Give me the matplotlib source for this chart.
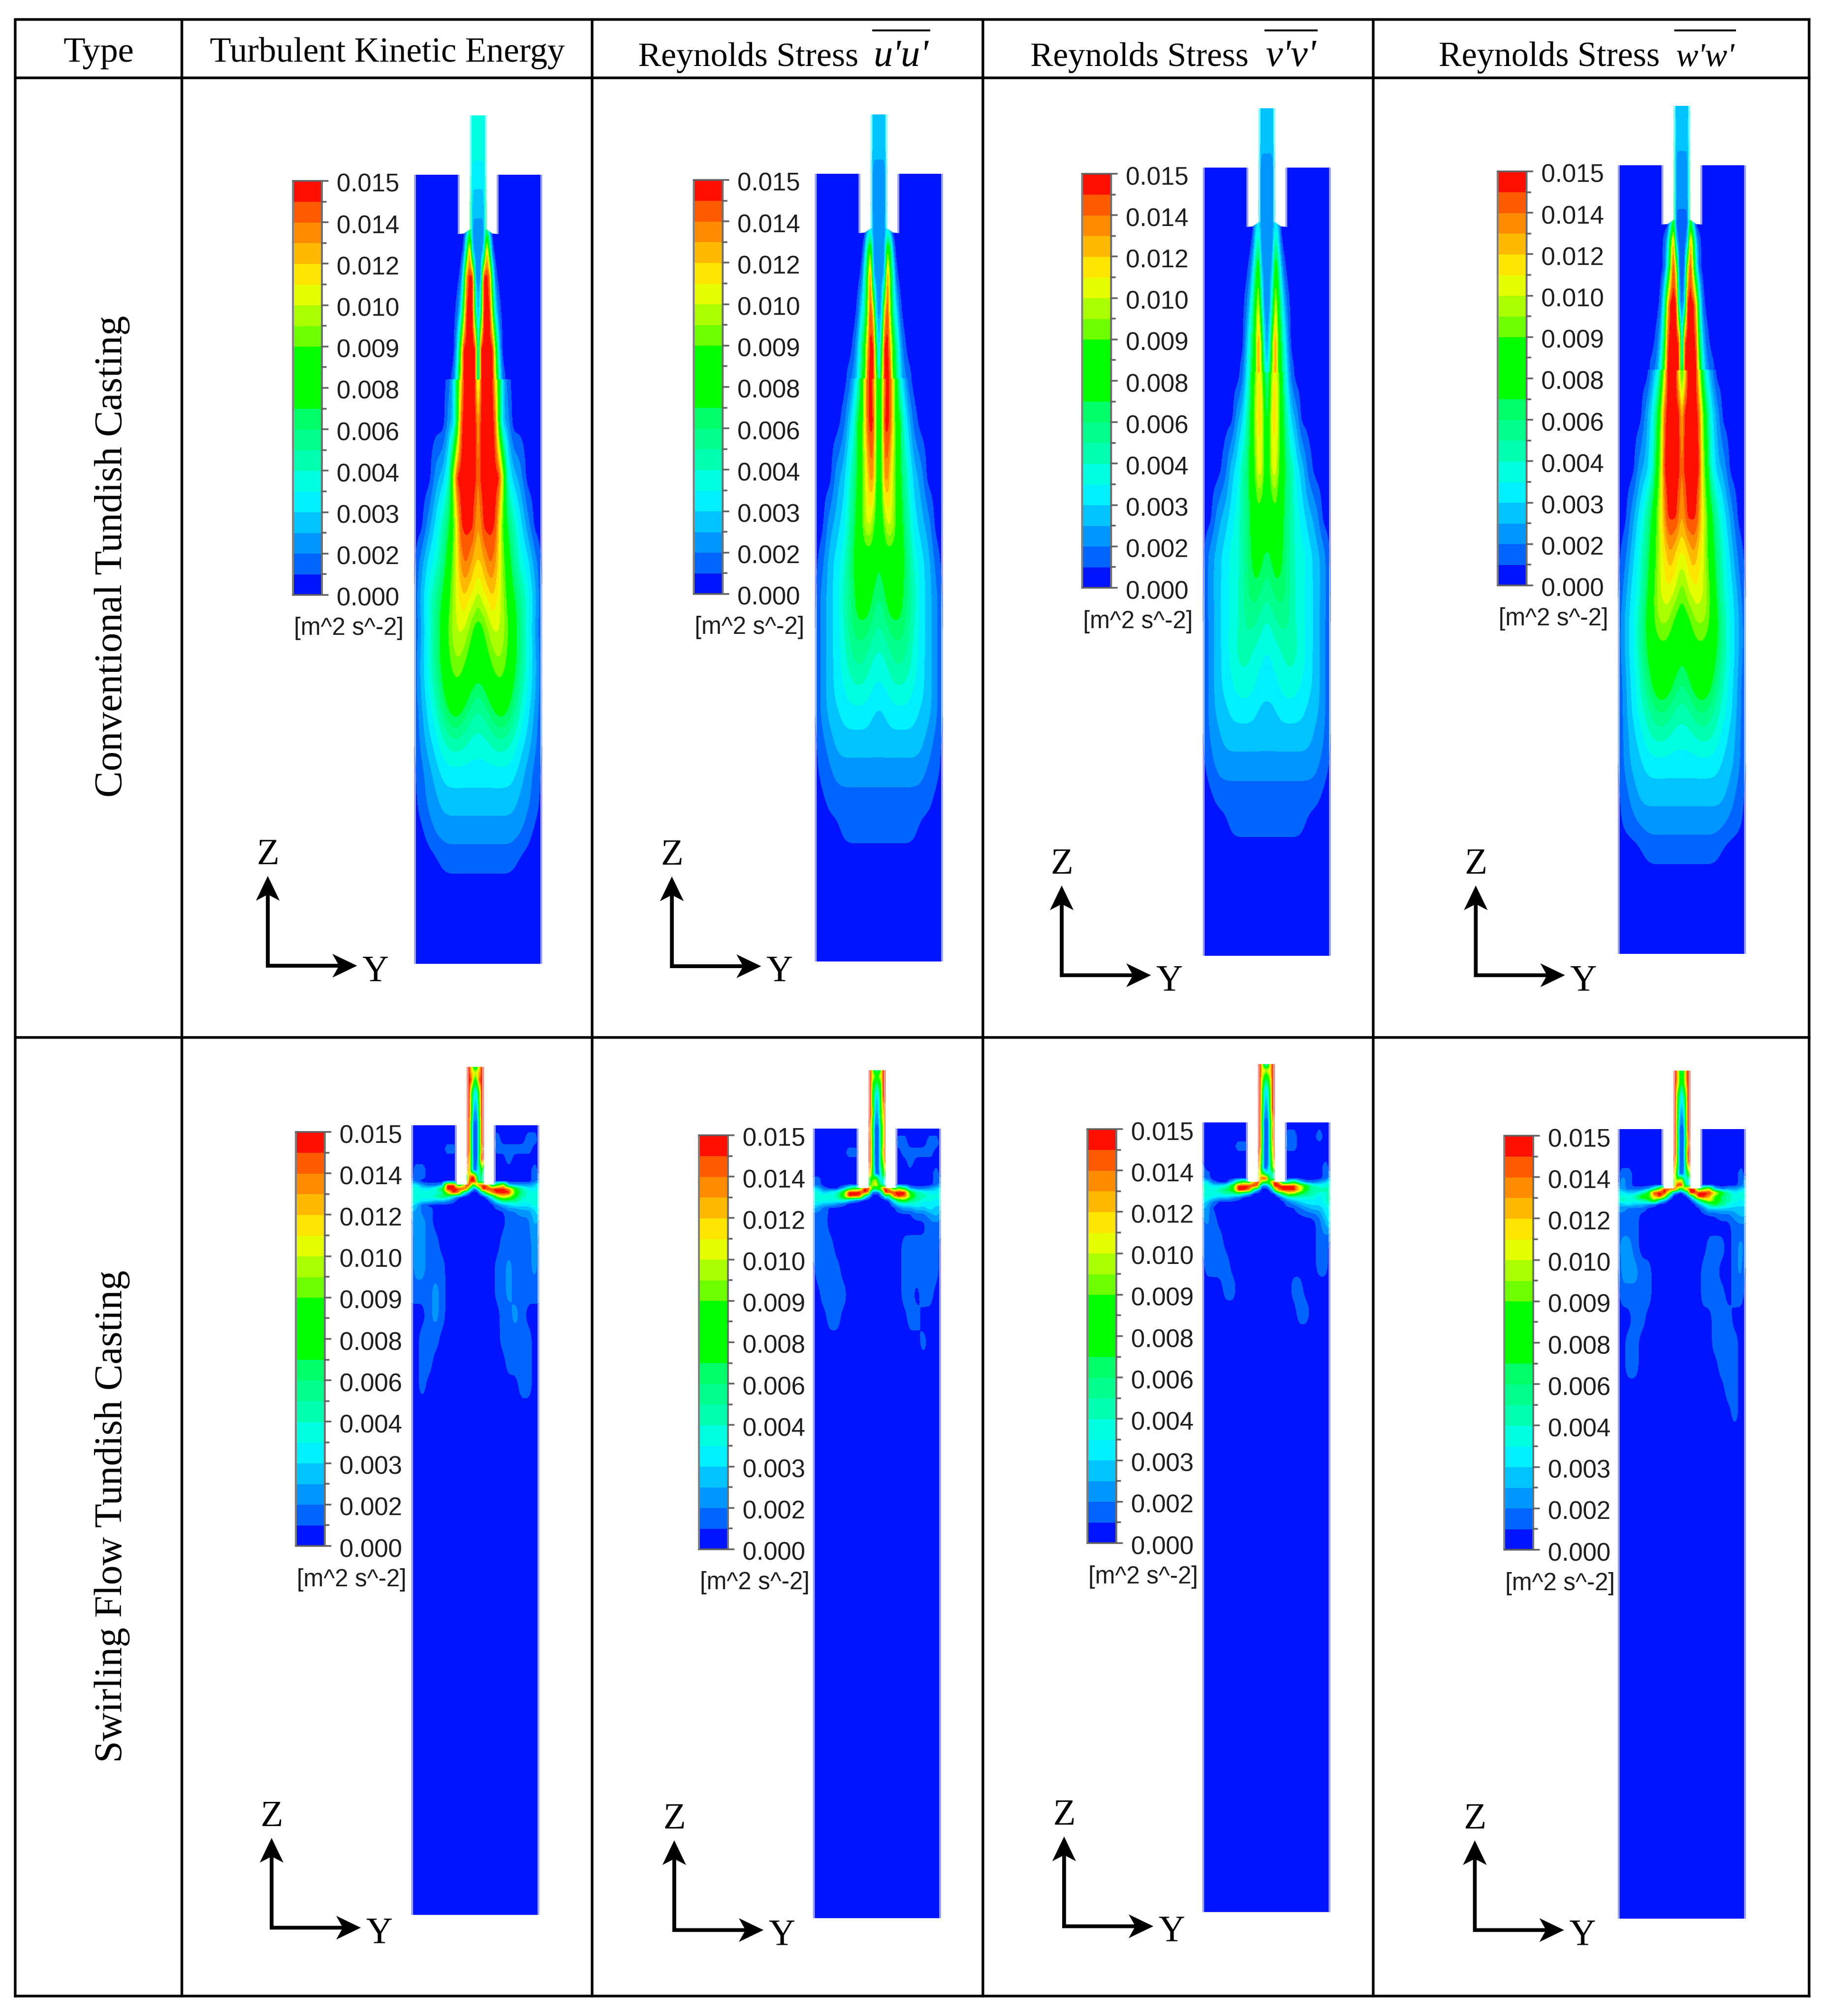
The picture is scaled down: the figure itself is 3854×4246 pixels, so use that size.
import matplotlib
matplotlib.use("Agg")
import matplotlib.pyplot as plt
import numpy as np
from matplotlib.path import Path
from matplotlib.patches import PathPatch, Rectangle, Polygon

W, H = 3854, 4246
PX = 72 / 100.0

# ---------------- data ----------------
HEADERS = ["Type", "Turbulent Kinetic Energy", "Reynolds Stress", "Reynolds Stress", "Reynolds Stress"]
SYMBOLS = ["u'u'", "v'v'", "w'w'"]
ROW_LABELS = ["Conventional Tundish Casting", "Swirling Flow Tundish Casting"]
CB_LABELS = ["0.015", "0.014", "0.012", "0.010", "0.009", "0.008", "0.006", "0.004", "0.003", "0.002", "0.000"]
UNITS = "[m^2 s^-2]"
BAND_COLORS = [(0, 20, 255), (0, 100, 255), (0, 150, 255), (0, 195, 255), (0, 240, 255),
               (0, 255, 225), (0, 255, 175), (0, 255, 140), (0, 255, 105), (0, 255, 0),
               (0, 255, 0), (0, 255, 0), (110, 255, 0), (170, 255, 0), (230, 255, 0),
               (255, 230, 0), (255, 185, 0), (255, 140, 0), (255, 90, 0), (255, 15, 0)]

# Field cells: one character per grid node, band index 0-19 written in base 20
# (0 = 0.000 band ... j = 0.015 band). Conventional fields are listed for half the tank.
CONV_Z = [-125, -60, 0, 60, 124, 162, 215, 292, 368, 428, 438, 522, 636, 740, 820, 900, 960,
          1020, 1100, 1140, 1200, 1260, 1320, 1380, 1440, 1500, 1664]
CONV_Y = [0, 6, 12, 18, 24, 30, 36, 44, 52, 62, 74, 88, 104, 120, 135]

conv_tke = ["555500000000000", "555500000000000", "444600000000000", "333900000000000", "222930000000000",
            "223h81000000000", "22jjh6100000000", "27jjjc410000000", "2jjjjjc30000000", "2jjjjje51000000",
            "bjjjjjf93100000", "gjjjjji93200000", "hjjjjjjjd532000", "ghjjjjjfb864200", "ffghiihfca75420",
            "cdeefgfedb97530", "aabcdeeedca7520", "aaabbcdddba7530", "77889aabba86430", "666778899875420",
            "555556666654320", "444444444443210", "333333333332210", "222222222222100", "111111111110000",
            "000000000000000", "000000000000000"]
conv_uu = ["333500000000000", "333500000000000", "222400000000000", "222400000000000", "222530000000000",
           "222c82000000000", "223ia5100000000", "23fjc6410000000", "29jjga731000000", "3cjjia842100000",
           "8bijiea53100000", "9bjjiea95310000", "9bhhfdb97532000", "aaceedba8643200", "89aaaaaa9754310",
           "7789aaaa8764320", "667788888754320", "555667777654320", "444455555544320", "333444444443320",
           "333333333333210", "222222222222110", "111111111111100", "111111111110000", "000000000000000",
           "000000000000000", "000000000000000"]
conv_vv = ["333500000000000", "333500000000000", "222400000000000", "222400000000000", "222430000000000",
           "222741000000000", "223b73100000000", "227ea6310000000", "24chb8520000000", "37dhb9631000000",
           "69efca631000000", "7bffda853200000", "abeeca976431000", "aaabaa876543200", "889aa9876554320",
           "677888876554320", "556677776554320", "445555666654320", "444445555544320", "333344444443320",
           "333333333333220", "222222222222210", "111111111111100", "111111111110000", "000000000000000",
           "000000000000000", "000000000000000"]
conv_ww = ["333500000000000", "333600000000000", "222800000000000", "222900000000000", "111a40000000000",
           "113ha3100000000", "11djc5100000000", "13jjjf610000000", "1ijjji931000000", "3jjjjjc52100000",
           "aejjjje84200000", "fjjjjjic8420000", "hjjjjjjda532000", "ghjjjjhec964200", "eefghgfeca75310",
           "bcdeefeedb85420", "aabbcddddb96430", "89aabbbbba96430", "77889aaaa975420", "666778888765420",
           "555556666654320", "444444444443320", "333333333333210", "222222222222110", "111111111110000",
           "000000000000000", "000000000000000"]

SWIRL_Z = [-123, -110, -95, -70, -30, 0, 30, 50, 70, 95, 108, 118, 126, 134, 142, 150, 158, 168, 180,
           200, 250, 300, 350, 400, 450, 500, 550, 600, 650, 1664]
SWIRL_Y = [-135, -125, -112, -98, -84, -70, -58, -46, -36, -26, -18, -14, -9, -4, 0, 4, 9, 14, 18,
           26, 36, 46, 58, 70, 84, 98, 112, 125, 135]
Z10 = "0000000000"
C0 = "000000000"

swirl_tke = [f"{Z10} jjfa8afjj {Z10}", f"{Z10} jjgfdfgjj {Z10}", f"{Z10} jjicacijj {Z10}", f"{Z10} jjc646cjj {Z10}",
             f"{Z10} jjb323bjj {Z10}", f"{Z10} jj91119jj {Z10}",
             f"{Z10} jj91119jj 0010000110", f"0000001100 jj91119hj 0011111100", f"{Z10} jha111ajj 0000100000",
             f"0110000000 gh82136a5 0000000010", f"0110000000 9fijd6684 0000000011", f"2100000000 bhjjj9575 0000000012",
             "442112jj8c jje8chjij g5ae322235", "554459jjjj g841127ij jjjjha6445", "555556djh6 210000136 chjjjb7555",
             f"5555687310 {C0} 26cfd96555", f"5544332100 {C0} 0258875555", f"4310000000 {C0} 0012344455",
             f"3211000000 {C0} 0000112235", f"1221000000 {C0} 0000111132", f"1221100000 {C0} 0001111121",
             f"1221110000 {C0} 0011211121", f"1111210000 {C0} 0011211111", f"0001210000 {C0} 0001121000",
             f"0011100000 {C0} 0001111100", f"0011000000 {C0} 0000111100", f"0010000000 {C0} 0000001100",
             f"{Z10} {C0} {Z10}", f"{Z10} {C0} {Z10}", f"{Z10} {C0} {Z10}"]
swirl_uu = [f"{Z10} jjc868cjj {Z10}", f"{Z10} jjecacejj {Z10}", f"{Z10} jjb979bjj {Z10}", f"{Z10} jja535ajj {Z10}",
            f"{Z10} jjb323bfj {Z10}", f"{Z10} jh91119dj {Z10}",
            f"{Z10} jia1118ej 0011000110", f"0000001100 ji91118gj 0001111100", f"{Z10} jia1119cj 0000100000",
            f"{Z10} hf92115ab 0000000010", f"1100000000 8abdb6454 0000000011", f"1100000000 6adee9744 0000000012",
            "43100269aj jha89cdjj g8b8211234", "55345ajjjj h511114aj jjjja65445", "55556bjji7 210000126 6hjic76555",
            f"5555564210 {C0} 15ab865545", f"4433210000 {C0} 0245554444", f"3210000000 {C0} 0012233433",
            f"1110000000 {C0} 0000011232", f"1110000000 {C0} 0000000111", f"1111000000 {C0} 0001111110",
            f"0111100000 {C0} 0001111110", f"0011110000 {C0} 0001101100", f"0001100000 {C0} 0000110000",
            f"{Z10} {C0} 0000001000", f"{Z10} {C0} {Z10}", f"{Z10} {C0} {Z10}",
            f"{Z10} {C0} {Z10}", f"{Z10} {C0} {Z10}", f"{Z10} {C0} {Z10}"]
swirl_vv = [f"{Z10} jjf656fjj {Z10}", f"{Z10} jjfedefjj {Z10}", f"{Z10} jjea9aejj {Z10}", f"{Z10} jjc545cjj {Z10}",
            f"{Z10} jjb323bjj {Z10}", f"{Z10} jj91119gj {Z10}",
            f"{Z10} jja1119hj 0011000100", f"0000001100 jj91119fj 0011000000", f"{Z10} jh91118ej {Z10}",
            f"1000000000 hg61127cf 0000000010", f"1100000000 cfb946567 0000000011", f"2100000000 efijja757 0000000012",
            "5410039bag jhb98bdhj h559411235", "65445ajjjj h611125cj jjjjfa6556", "65568ajjh5 21000013a hjjjf96666",
            f"6555667420 {C0} 48dc976556", f"5543321000 {C0} 0245555457", f"4310000000 {C0} 0012344456",
            f"3200000000 {C0} 0000123345", f"1210000000 {C0} 0000000135", f"1111000000 {C0} 0000000110",
            f"0111100000 {C0} 0000000110", f"0000110000 {C0} 0001100000", f"{Z10} {C0} 0000110000",
            f"{Z10} {C0} {Z10}", f"{Z10} {C0} {Z10}", f"{Z10} {C0} {Z10}",
            f"{Z10} {C0} {Z10}", f"{Z10} {C0} {Z10}", f"{Z10} {C0} {Z10}"]
swirl_ww = [f"{Z10} jjga6agjj {Z10}", f"{Z10} jjgbabgjj {Z10}", f"{Z10} jjfa8afjj {Z10}", f"{Z10} jjb646bjj {Z10}",
            f"{Z10} jja323ajj {Z10}", f"{Z10} jj91119jj {Z10}",
            f"{Z10} jja1119hj {Z10}", f"{Z10} jj9111ajj {Z10}", f"{Z10} jha1119ij {Z10}",
            f"0110000000 he71126ac 0000000010", f"0210000000 aecee7546 0000000012", f"1210000000 bejjjc646 0000000012",
            "3211125cjj jjd99dgjj j8bd312234", "443359jjjc 31100137j jjjjfa6455", "5556abfjd3 000000012 9jjgb86556",
            f"565568c520 {C0} 26beb86545", f"3343321000 {C0} 0247975444", f"2211100000 {C0} 0013333333",
            f"1111000000 {C0} 0000011233", f"1111000000 {C0} 0000000111", f"1221000000 {C0} 0001110121",
            f"0222110000 {C0} 0011100120", f"0111110000 {C0} 0011110110", f"0001100000 {C0} 0000111000",
            f"0011000000 {C0} 0000111100", f"0011000000 {C0} 0000011100", f"{Z10} {C0} 0000001100",
            f"{Z10} {C0} 0000000100", f"{Z10} {C0} {Z10}", f"{Z10} {C0} {Z10}"]

# ---------------- layout ----------------
LINE_PX = 5.5
X_LINES = [32, 383, 1247, 2070, 2892, 3810]
Y_LINES = [41, 164, 2185, 4204]
PANELS = [  # field, centre x, tank top, tank bottom, colourbar left, arrow origin
    (conv_tke, 1007, 368, 2030, 617, (564, 2034)),
    (conv_uu, 1851, 366, 2025, 1461, (1415, 2035)),
    (conv_vv, 2668, 353, 2013, 2279, (2236, 2054)),
    (conv_ww, 3542, 348, 2009, 3154, (3108, 2054)),
    (swirl_tke, 1001, 2370, 4038, 623, (572, 4060)),
    (swirl_uu, 1846.5, 2377, 4043, 1472, (1420, 4065)),
    (swirl_vv, 2666.5, 2364, 4032, 2290, (2241, 4057)),
    (swirl_ww, 3541.5, 2378, 4046, 3168, (3106, 4065)),
]
CMAP = [tuple(c / 255 for c in rgb) for rgb in BAND_COLORS]
LEVELS = np.arange(-0.5, 20.0, 1.0)

fig = plt.figure(figsize=(W / 100, H / 100), dpi=100, facecolor="white")
ax = fig.add_axes([0, 0, 1, 1])
ax.set_xlim(0, W)
ax.set_ylim(H, 0)
ax.axis("off")


def cells(row, n):
    s = row.replace(" ", "")
    s = (s + "0" * n)[:n]
    return [int(ch, 20) for ch in s]


def gauss(arr, sigma, axis):
    if sigma <= 0:
        return arr
    r = int(3 * sigma) + 1
    k = np.exp(-0.5 * (np.arange(-r, r + 1) / sigma) ** 2)
    k /= k.sum()
    pad = [(0, 0), (0, 0)]
    pad[axis] = (r, r)
    padded = np.pad(arr, pad, mode="edge")
    return np.apply_along_axis(lambda v: np.convolve(v, k, mode="valid"), axis, padded)


def resample(y_src, z_src, vals, y_new, z_new):
    tmp = np.array([np.interp(y_new, y_src, row) for row in vals])
    return np.array([np.interp(z_new, z_src, col) for col in tmp.T]).T


def smooth(arr, dy, dz, s_y, s_z):
    return gauss(gauss(arr, s_y / dy, 1), s_z / dz, 0)


def ramp(z, a, b):
    return np.clip((z - a) / (b - a), 0, 1)[:, None]


def conv_grid(field):
    half = np.array([cells(r, len(CONV_Y)) for r in field], dtype=float)
    full = np.hstack([half[:, :0:-1], half])
    y = np.array(CONV_Y, dtype=float)
    y_src = np.concatenate([-y[:0:-1], y])
    z_src = np.array(CONV_Z, dtype=float)
    y_new = np.arange(-135.0, 136.0, 1.5)
    upper = z_src <= 428
    z_up = np.arange(-125.0, 433.0, 3.0)
    z_lo = np.arange(433.0, 1665.0, 3.0)
    a = smooth(resample(y_src, z_src[upper], full[upper], y_new, z_up), 1.5, 3.0, 1.5, 5.0)
    lo = resample(y_src, z_src[~upper], full[~upper], y_new, z_lo)
    s1 = smooth(lo, 1.5, 3.0, 2.5, 8.0)
    s2 = smooth(lo, 1.5, 3.0, 11.0, 26.0)
    w = ramp(z_lo, 640, 1000)
    b = s1 * (1 - w) + s2 * w
    return y_new, np.concatenate([z_up, z_lo]), np.vstack([a, b])


def swirl_grid(field):
    arr = np.array([cells(r, len(SWIRL_Y)) for r in field], dtype=float)
    y_src, z_src = np.array(SWIRL_Y, dtype=float), np.array(SWIRL_Z, dtype=float)
    y_new = np.arange(-135.0, 135.5, 1.0)
    z_new = np.arange(-123.0, 1665.0, 2.0)
    fine = resample(y_src, z_src, arr, y_new, z_new)
    s1 = smooth(fine, 1.0, 2.0, 0.8, 1.5)
    s2 = smooth(fine, 1.0, 2.0, 4.5, 11.0)
    w = ramp(z_new, 165, 195)
    return y_new, z_new, s1 * (1 - w) + s2 * w


def tank_path(c, top, bottom, z_top, inset, sloped):
    n, w, hw = 18 - inset, 39 + inset, 135 - inset
    if sloped:
        right = [(n, z_top), (n, 114), (30, 124), (w, 125), (w, 0), (hw, 0)]
    else:
        right = [(n, z_top), (n, 125), (w, 125), (w, 0), (hw, 0)]
    pts = list(right) + [(hw, bottom - top), (-hw, bottom - top)] + [(-x, z) for x, z in reversed(right)]
    verts = [(c + x, top + z) for x, z in pts] + [(c + n, top + z_top)]
    return Path(verts, closed=True)


for i, (field, c, top, bottom, cb_left, origin) in enumerate(PANELS):
    is_conv = i < 4
    yy, zz, vals = conv_grid(field) if is_conv else swirl_grid(field)
    z_top = zz[0]
    for inset, alpha in ((0, 0.4), (4, 1.0)):
        clip = PathPatch(tank_path(c, top, bottom, z_top, inset, is_conv), transform=ax.transData,
                         facecolor="none", edgecolor="none")
        ax.add_patch(clip)
        cs = ax.contourf(c + yy, top + zz, vals, levels=LEVELS, colors=CMAP, alpha=alpha, zorder=2)
        cs.set_clip_path(clip)

    # colour bar
    cb_top = top + (13 if is_conv else 14)
    band_h, cb_w = 872 / 20.0, 61
    for k, col in enumerate(CMAP):
        ax.add_patch(Rectangle((cb_left, cb_top + (19 - k) * band_h), cb_w, band_h + 0.5,
                               facecolor=col, edgecolor="none", zorder=3))
    ax.plot([cb_left, cb_left], [cb_top, cb_top + 872], color="#808080", lw=4 * PX, zorder=4, solid_capstyle="butt")
    ax.plot([cb_left + cb_w, cb_left + cb_w], [cb_top, cb_top + 872], color="#707070", lw=4 * PX, zorder=4,
            solid_capstyle="butt")
    for k in range(21):
        ln = 73 if k % 2 == 0 else 69
        x0 = cb_left if k in (0, 20) else cb_left + cb_w
        ax.plot([x0, cb_left + ln], [cb_top + k * band_h] * 2, color="#606060", lw=3.5 * PX, zorder=4)
    for k, lab in enumerate(CB_LABELS):
        ax.text(cb_left + 92, cb_top + 2 * k * band_h + 9, lab, family="Liberation Sans", fontsize=38,
                va="center", ha="left", color="#1e1e1e", zorder=5)
    ax.text(cb_left + 2, cb_top + 872 + 71, UNITS, family="Liberation Sans", fontsize=36.5,
            va="center", ha="left", color="#1e1e1e", zorder=5)

    # axes triad
    ox, oy = origin
    ax.plot([ox, ox], [oy + 4, oy - 155], color="k", lw=8 * PX, solid_capstyle="butt", zorder=5)
    ax.plot([ox - 4, ox + 155], [oy, oy], color="k", lw=8 * PX, solid_capstyle="butt", zorder=5)
    ax.add_patch(Polygon([(ox, oy - 189), (ox + 25, oy - 137), (ox, oy - 150), (ox - 25, oy - 137)],
                         closed=True, facecolor="k", edgecolor="none", zorder=5))
    ax.add_patch(Polygon([(ox + 188, oy), (ox + 136, oy + 25), (ox + 150, oy), (ox + 136, oy - 25)],
                         closed=True, facecolor="k", edgecolor="none", zorder=5))
    ax.text(ox, oy - 214, "Z", family="Liberation Serif", fontsize=56, ha="center", va="baseline", zorder=5)
    ax.text(ox + 226, oy + 31, "Y", family="Liberation Serif", fontsize=56, ha="center", va="baseline", zorder=5)

# table rules
for x in X_LINES:
    ax.plot([x, x], [Y_LINES[0] - 2.5, Y_LINES[-1] + 2.5], color="k", lw=LINE_PX * PX, solid_capstyle="butt", zorder=6)
for y in Y_LINES:
    ax.plot([X_LINES[0] - 2.5, X_LINES[-1] + 2.5], [y, y], color="k", lw=LINE_PX * PX, solid_capstyle="butt", zorder=6)

renderer = fig.canvas.get_renderer()


def fit_text(t, target):
    ext = t.get_window_extent(renderer)
    t.set_fontsize(t.get_fontsize() * target / max(ext.width, ext.height))


fit_text(ax.text(208, 130, HEADERS[0], family="Liberation Serif", fontsize=50, ha="center", va="baseline"), 149)
fit_text(ax.text(816, 130, HEADERS[1], family="Liberation Serif", fontsize=50, ha="center", va="baseline"), 748)
for label, x0, w0 in zip(HEADERS[2:], (1344, 2170, 3030), (464, 460, 466)):
    fit_text(ax.text(x0, 139, label, family="Liberation Serif", fontsize=50, ha="left", va="baseline"), w0)
for sym, x0, x1 in zip(SYMBOLS, (1837, 2663, 3526), (1959, 2775, 3656)):
    fit_text(ax.text((x0 + x1) / 2, 139, sym, family="Liberation Serif", style="italic", fontsize=50,
                     ha="center", va="baseline"), (x1 - x0) * 0.95)
    ax.plot([x0, x1], [64, 64], color="k", lw=4 * PX, solid_capstyle="butt")
fit_text(ax.text(236, 1172, ROW_LABELS[0], family="Liberation Serif", fontsize=50, rotation=90,
                 ha="center", va="center"), 1016)
fit_text(ax.text(236, 3194, ROW_LABELS[1], family="Liberation Serif", fontsize=50, rotation=90,
                 ha="center", va="center"), 1038)

fig.savefig("out.png", dpi=100, facecolor="white")
